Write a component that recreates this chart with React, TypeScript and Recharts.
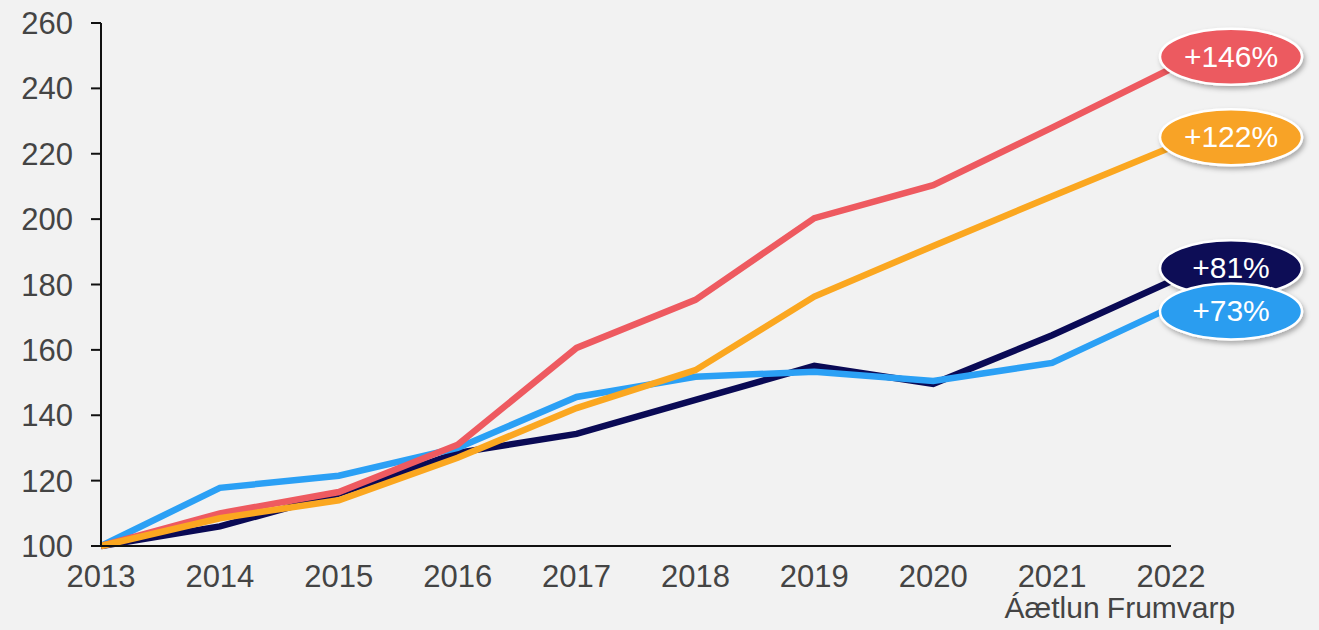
import React from 'react';
import { LineChart, Line, XAxis, YAxis } from 'recharts';

const years = ['2013', '2014', '2015', '2016', '2017', '2018', '2019', '2020', '2021', '2022'];
const subLabels = ['', '', '', '', '', '', '', '', 'Áætlun', 'Frumvarp'];
const redSeries = [100, 110, 116.5, 131, 160.6, 175.3, 200.3, 210.4, 228, 246];
const orangeSeries = [100, 108.5, 114, 127, 142.2, 153.8, 176.3, 191.8, 207, 222];
const navySeries = [100, 106, 116, 128.5, 134.3, 144.7, 155.1, 149.6, 164.5, 181];
const blueSeries = [100, 117.8, 121.5, 130, 145.6, 151.8, 153.3, 150.5, 156, 173];
const yTicks = [100, 120, 140, 160, 180, 200, 220, 240, 260];

const data = years.map((y, i) => ({
  year: y,
  red: redSeries[i],
  orange: orangeSeries[i],
  navy: navySeries[i],
  blue: blueSeries[i],
}));

const FONT = '"Liberation Sans", Arial, sans-serif';
const TEXT = '#444444';

const makeBadge = (fill: string, dy: number, id: string) => (props: any) => {
  const { cx, cy, index, value } = props;
  if (index !== years.length - 1 || cx == null || cy == null) {
    return <g key={`d-${id}-${index}`} />;
  }
  const ex = cx + 60;
  const ey = cy + dy;
  const pct = Math.round(value - 100);
  return (
    <g key={`d-${id}-${index}`}>
      <defs>
        <filter id={`sh-${id}`} x="-20%" y="-30%" width="140%" height="170%">
          <feDropShadow dx="2" dy="3" stdDeviation="2.5" floodColor="#000" floodOpacity="0.3" />
        </filter>
      </defs>
      <ellipse cx={ex} cy={ey} rx={71} ry={28} fill={fill} stroke="#ffffff" strokeWidth={2.5} filter={`url(#sh-${id})`} />
      <text x={ex} y={ey + 10} textAnchor="middle" fill="#ffffff" fontSize={30} fontFamily={FONT}>
        {`+${pct}%`}
      </text>
    </g>
  );
};

const XTick = (props: any) => {
  const { x, y, payload, index } = props;
  const i = typeof index === 'number' ? index : years.indexOf(payload.value);
  return (
    <g>
      <text x={x} y={y + 41} textAnchor="middle" fill={TEXT} fontSize={31} fontFamily={FONT}>
        {payload.value}
      </text>
      {subLabels[i] ? (
        <text x={x} y={y + 72} textAnchor="middle" fill={TEXT} fontSize={30} fontFamily={FONT}>
          {subLabels[i]}
        </text>
      ) : null}
    </g>
  );
};

export default function App() {
  return (
    <div style={{ position: 'absolute', left: 0, top: 0, width: 1319, height: 630, background: '#F2F2F2' }}>
      <LineChart width={1319} height={630} data={data} margin={{ top: 23, right: 148, bottom: 14, left: 0 }}>
        <XAxis
          dataKey="year"
          height={70}
          tickSize={0}
          tickMargin={0}
          axisLine={{ stroke: '#111', strokeWidth: 2 }}
          tickLine={false}
          tick={<XTick />}
          interval={0}
        />
        <YAxis
          width={101}
          domain={[100, 260]}
          ticks={yTicks}
          tickSize={10}
          tickMargin={18}
          axisLine={{ stroke: '#111', strokeWidth: 2 }}
          tickLine={{ stroke: '#111', strokeWidth: 2 }}
          tick={{ fill: TEXT, fontSize: 31, fontFamily: FONT }}
          interval={0}
        />
        <Line dataKey="navy" stroke="#0A0A55" strokeWidth={6.5} dot={makeBadge('#0B0B57', -13, 'navy')} activeDot={false} isAnimationActive={false} strokeLinejoin="miter" />
        <Line dataKey="blue" stroke="#2BA0F5" strokeWidth={6.5} dot={makeBadge('#2A9DF0', 4, 'blue')} activeDot={false} isAnimationActive={false} strokeLinejoin="miter" />
        <Line dataKey="red" stroke="#EE5A60" strokeWidth={6.5} dot={makeBadge('#EC5A60', -12, 'red')} activeDot={false} isAnimationActive={false} strokeLinejoin="miter" />
        <Line dataKey="orange" stroke="#FBA720" strokeWidth={6.5} dot={makeBadge('#F8A325', -10, 'orange')} activeDot={false} isAnimationActive={false} strokeLinejoin="miter" />
      </LineChart>
    </div>
  );
}
